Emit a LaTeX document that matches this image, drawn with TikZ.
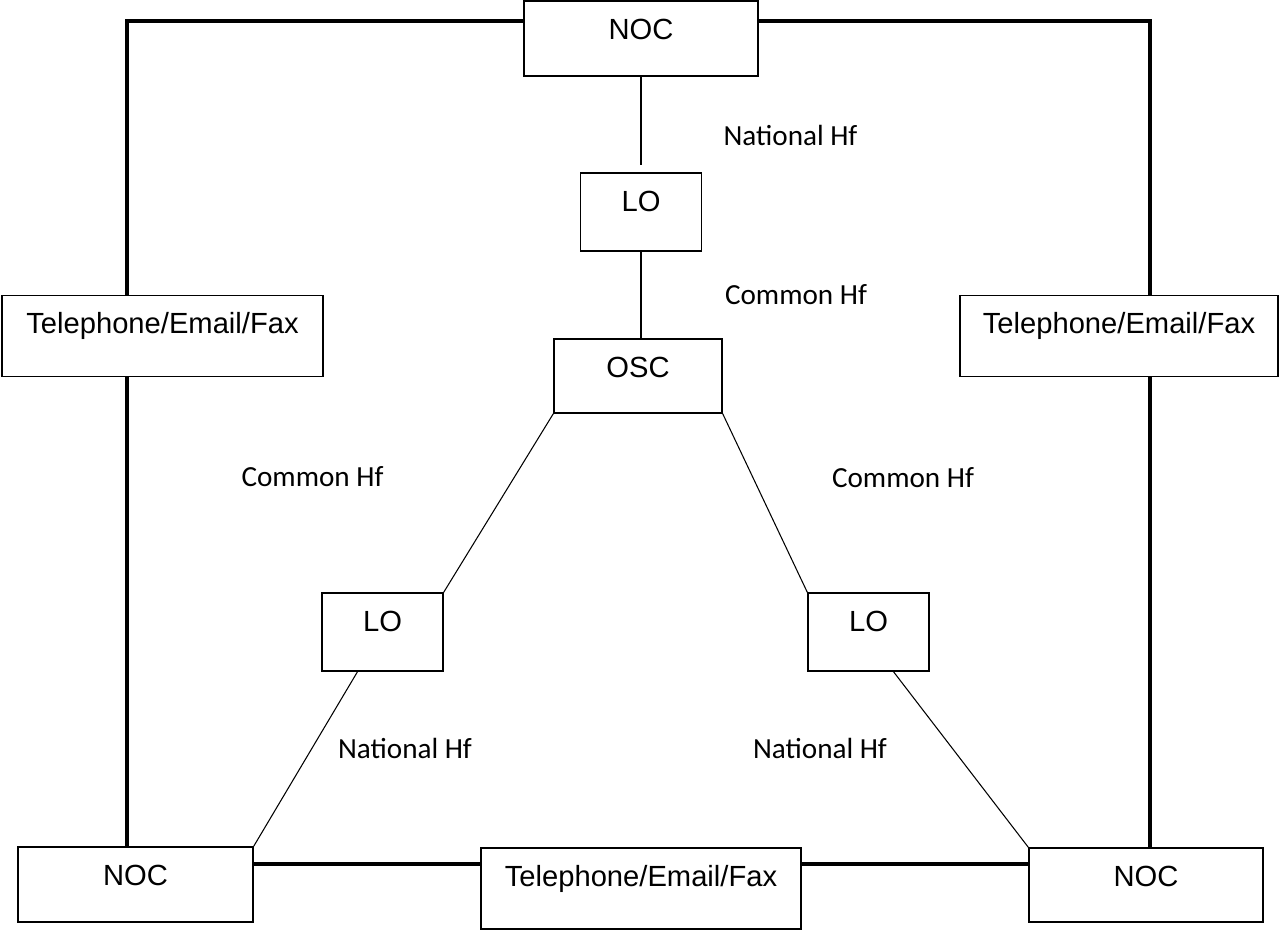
\documentclass[tikz,border=0pt]{standalone}
\usepackage{fontspec}
\setmainfont{Liberation Sans}
\newfontfamily\lblfont{Carlito}
\usepackage{tikz}

\begin{document}
\begin{tikzpicture}[x=0.02cm, y=-0.02cm,
            box/.style={draw, line width=0.8pt, inner xsep=0pt, inner ysep=0.35cm,
                text height=0.42cm, text depth=0.38cm, font=\fontsize{16.6}{20}\selectfont},
            hf/.style={font=\lblfont\fontsize{16.6}{20}\selectfont},
            link/.style={line width=2pt},
            radio/.style={line width=0.6pt}]
            \useasboundingbox (0,0) rectangle (1279,930);

            \node[box, minimum width=4.68cm] (nocT) at (641,38.5) {NOC};
            \node[box, minimum width=2.42cm, text depth=0.44cm] (loT) at (641,212) {LO};
            \node[box, minimum width=3.36cm, text depth=0.36cm] (osc) at (638,376) {OSC};
            \node[box, minimum width=6.42cm, text depth=0.51cm] (telL) at (162.5,336) {Telephone/Email/Fax};
            \node[box, minimum width=6.36cm, text depth=0.51cm] (telR) at (1119,336) {Telephone/Email/Fax};
            \node[box, minimum width=2.42cm, text depth=0.44cm] (loL) at (382.5,632) {LO};
            \node[box, minimum width=2.42cm, text depth=0.44cm] (loR) at (868.5,632) {LO};
            \node[box, minimum width=4.7cm] (nocL) at (135.5,884.5) {NOC};
            \node[box, minimum width=6.4cm, text depth=0.50cm] (telB) at (641,888.5) {Telephone/Email/Fax};
            \node[box, minimum width=4.68cm, text depth=0.36cm] (nocR) at (1146,885) {NOC};

            \coordinate (tl) at (127,21);
            \coordinate (tr) at (1150,21);
            \coordinate (bot) at (640,864);

            \draw[link] (nocT.west |- tl) -- (tl) -- (telL.north -| tl);
            \draw[link] (nocT.east |- tr) -- (tr) -- (telR.north -| tr);
            \draw[link] (telL.south -| tl) -- (nocL.north -| tl);
            \draw[link] (telR.south -| tr) -- (nocR.north -| tr);
            \draw[link] (nocL.east |- bot) -- (telB.west |- bot);
            \draw[link] (telB.east |- bot) -- (nocR.west |- bot);

            \draw[radio] (nocT.south -| loT) -- ([yshift=0.14cm]loT.north);
            \draw[radio] (loT.south) -- (loT.south |- osc.north);
            \draw[radio] (osc.south west) -- (loL.north east);
            \draw[radio] (osc.south east) -- (loR.north west);
            \draw[radio] ([xshift=-0.5cm]loL.south) -- (nocL.north east);
            \draw[radio] ([xshift=0.5cm]loR.south) -- (nocR.north west);

            \node[hf] (hfNat1) at (790.5,135) {National Hf};
            \node[hf] (hfCom1) at (796,295) {Common Hf};
            \node[hf] (hfCom2) at (312.5,477) {Common Hf};
            \node[hf] (hfCom3) at (903,478) {Common Hf};
            \node[hf] (hfNat2) at (405,748) {National Hf};
            \node[hf] (hfNat3) at (820,748) {National Hf};
        \end{tikzpicture}
\end{document}
